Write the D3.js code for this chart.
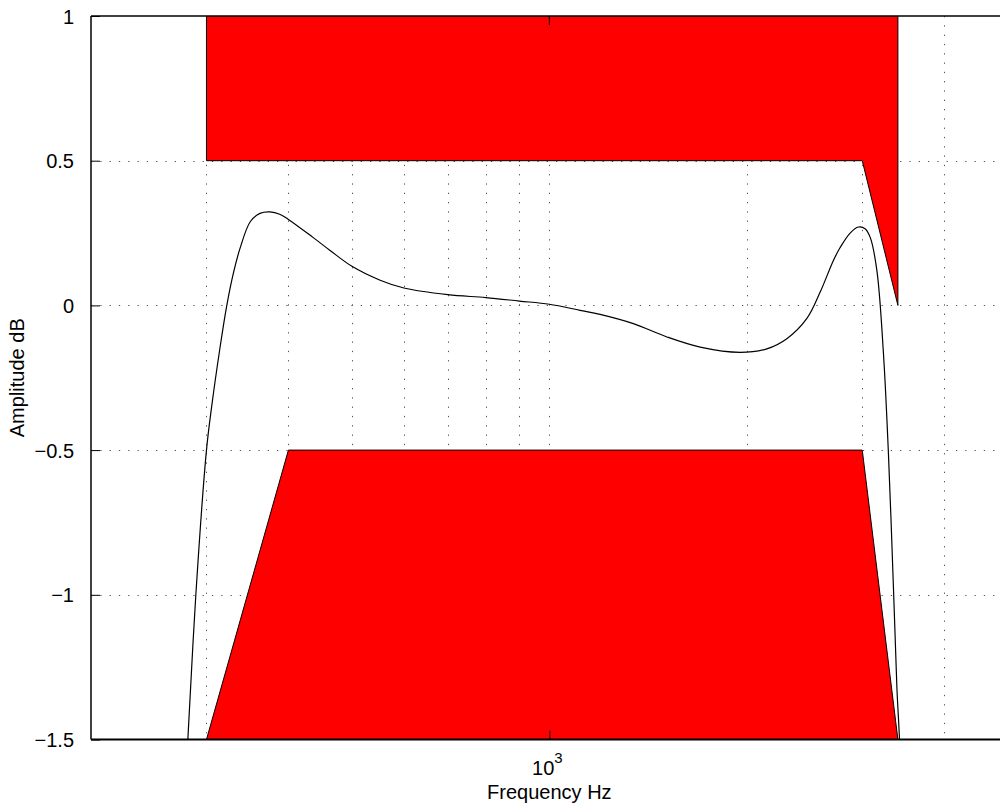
<!DOCTYPE html>
<html>
<head>
<meta charset="utf-8">
<script src="https://cdn.jsdelivr.net/npm/d3@7"></script>
<style>
  html, body { margin: 0; padding: 0; background: #fff; }
  svg { display: block; }
  text { font-family: "Liberation Sans", Arial, Helvetica, sans-serif; fill: #000; }
</style>
</head>
<body>
<svg id="chart" width="1000" height="811"></svg>
<script>
// ---- data ----
const freq = [276, 281, 289, 300, 305.5, 314.5, 322, 330, 337.5, 350, 362, 375, 388, 400, 436, 463, 500, 552, 600, 700, 800, 900, 1000,
              1114, 1195, 1343, 1511, 1698, 1954, 2146, 2302, 2470, 2588, 2712, 2776, 2875, 2960, 3030, 3085, 3158, 3232, 3289, 3347, 3388, 3419, 3440];
const ampDb = [-1.8, -1.5, -1.0, -0.50, -0.35, -0.148, -0.003, 0.115, 0.197, 0.29, 0.318, 0.323, 0.315, 0.297, 0.235, 0.19, 0.135, 0.087, 0.060, 0.037, 0.027, 0.015, 0.004,
               -0.017, -0.031, -0.063, -0.109, -0.144, -0.162, -0.150, -0.115, -0.045, 0.046, 0.156, 0.2, 0.25, 0.271, 0.265, 0.235, 0.121, -0.167, -0.513, -0.974, -1.32, -1.5, -1.7];
const upperMaskF = [300, 3400, 3400, 3000, 300];
const upperMaskA = [1, 1, 0, 0.5, 0.5];
const lowerMaskF = [300, 400, 3000, 3400];
const lowerMaskA = [-1.5, -0.5, -0.5, -1.5];
const xDomain = [200, 6200];
const yDomain = [-1.5, 1];
const yTicks = [-1.5, -1, -0.5, 0, 0.5, 1];
const yTickLabels = ["\u22121.5", "\u22121", "\u22120.5", "0", "0.5", "1"];
const xGrid = [300, 400, 500, 600, 700, 800, 900, 1000, 2000, 3000, 4000, 5000, 6000];
const xMajor = [1000];
const xLabel = "Frequency Hz";
const yLabel = "Amplitude dB";

(function () {
// ---- layout ----
const pL = 91, pR = 1069, pT = 16, pB = 739.5;
const svg = d3.select("#chart");
const x = d3.scaleLog().domain(xDomain).range([pL, pR]);
const y = d3.scaleLinear().domain(yDomain).range([pB, pT]);

svg.append("defs").append("clipPath").attr("id", "clip")
  .append("rect").attr("x", pL).attr("y", pT).attr("width", pR - pL).attr("height", pB - pT);

const gridColor = "#555";
const dash = "1.3,8";
// vertical grid
svg.append("g").selectAll("line").data(xGrid).join("line")
  .attr("x1", d => Math.round(x(d)) + 0.5).attr("x2", d => Math.round(x(d)) + 0.5)
  .attr("y1", pT).attr("y2", pB)
  .attr("stroke", gridColor).attr("stroke-width", 1).attr("stroke-dasharray", dash);
// horizontal grid
svg.append("g").selectAll("line").data(yTicks.filter(d => d > -1.5 && d < 1)).join("line")
  .attr("x1", pL).attr("x2", pR)
  .attr("y1", d => Math.round(y(d)) + 0.5).attr("y2", d => Math.round(y(d)) + 0.5)
  .attr("stroke", gridColor).attr("stroke-width", 1).attr("stroke-dasharray", dash);

// masks
const poly = (fs, as) => fs.map((f, i) => [x(f), y(as[i])].join(",")).join(" ");
const plotG = svg.append("g").attr("clip-path", "url(#clip)");
plotG.append("polygon").attr("points", poly(upperMaskF, upperMaskA))
  .attr("fill", "#ff0000").attr("stroke", "#000").attr("stroke-width", 1);
plotG.append("polygon").attr("points", poly(lowerMaskF, lowerMaskA))
  .attr("fill", "#ff0000").attr("stroke", "#000").attr("stroke-width", 1);

// response curve
const pts = freq.map((f, i) => [f, ampDb[i]]);
plotG.append("path").datum(pts)
  .attr("d", d3.line().x(d => x(d[0])).y(d => y(d[1])).curve(d3.curveCatmullRom.alpha(0.5)))
  .attr("fill", "none").attr("stroke", "#000").attr("stroke-width", 1.2);

// axes box
svg.append("line").attr("x1", pL).attr("x2", pR).attr("y1", pT).attr("y2", pT).attr("stroke", "#000").attr("stroke-width", 1.5);
svg.append("line").attr("x1", pL).attr("x2", pR).attr("y1", pB).attr("y2", pB).attr("stroke", "#000").attr("stroke-width", 2);
svg.append("line").attr("x1", pL).attr("x2", pL).attr("y1", pT).attr("y2", pB).attr("stroke", "#000").attr("stroke-width", 1.5);

// y ticks (inward) and labels
const yAxis = d3.axisLeft(y).tickValues(yTicks).tickSize(-9).tickPadding(17)
  .tickFormat((d, i) => yTickLabels[i]);
const ya = svg.append("g").attr("transform", `translate(${pL},0)`).call(yAxis);
ya.select(".domain").remove();
ya.selectAll(".tick line").attr("stroke", "#000").attr("stroke-width", 1);
ya.selectAll(".tick text").attr("font-size", 20).attr("font-family", "Liberation Sans, Arial, sans-serif").attr("dy", "0.35em");

// x major tick
const xAxis = d3.axisBottom(x).tickValues(xMajor).tickSize(-9).tickFormat(() => "");
const xa = svg.append("g").attr("transform", `translate(0,${pB})`).call(xAxis);
xa.select(".domain").remove();
xa.selectAll(".tick line").attr("stroke", "#000");
svg.append("g").selectAll("line").data(xMajor).join("line")
  .attr("x1", d => x(d)).attr("x2", d => x(d)).attr("y1", pT).attr("y2", pT + 9).attr("stroke", "#000");

// x tick label 10^3
xMajor.forEach(v => {
  const t = svg.append("text").attr("x", x(v) - 2).attr("y", 775).attr("text-anchor", "middle").attr("font-size", 20);
  t.append("tspan").text("10");
  t.append("tspan").attr("dy", -12).attr("font-size", 15).text(String(Math.round(Math.log10(v))));
});

// axis labels
svg.append("text").attr("x", x(1000)).attr("y", 799).attr("text-anchor", "middle").attr("font-size", 20).text(xLabel);
svg.append("text").attr("transform", `translate(24,${(pT + pB) / 2}) rotate(-90)`)
  .attr("text-anchor", "middle").attr("font-size", 20).text(yLabel);
})();
</script>
</body>
</html>
